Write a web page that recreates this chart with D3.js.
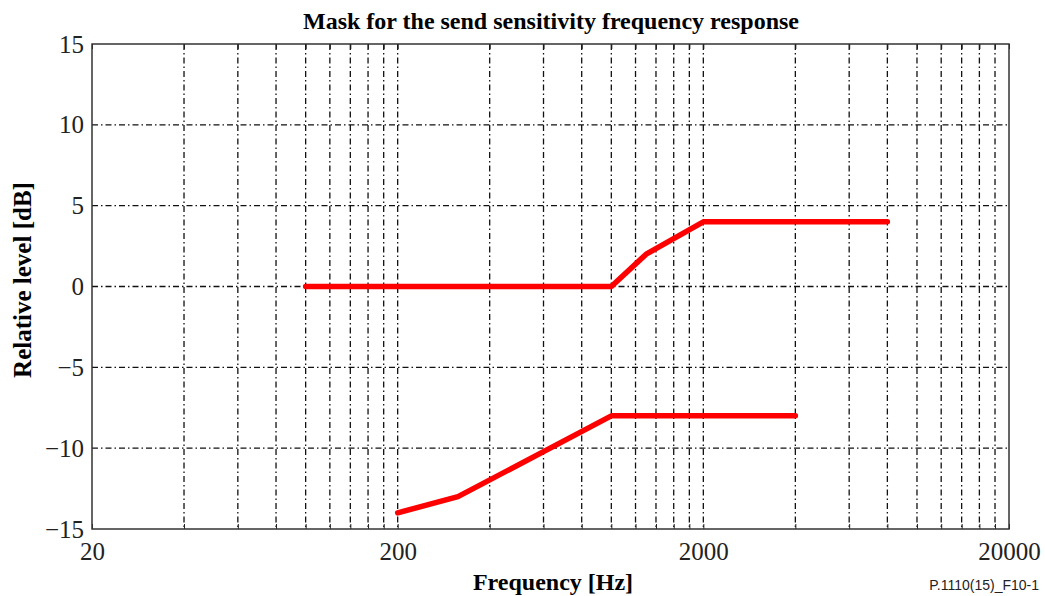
<!DOCTYPE html>
<html>
<head>
<meta charset="utf-8">
<script src="https://cdn.jsdelivr.net/npm/d3@7"></script>
<style>
	body { margin: 0; background: #fff; }
	svg { display: block; }
	.tick text { font-family: "Liberation Serif", "Times New Roman", serif; font-size: 25px; fill: #222; }
</style>
</head>
<body>
<svg id="chart" width="1045" height="596"></svg>
<script>
// upper limit of the mask
var upperFreq = [100, 1000, 1300, 2000, 8000];
var upperLevel = [0, 0, 2, 4, 4];
// lower limit of the mask
var lowerFreq = [200, 315, 1000, 4000];
var lowerLevel = [-14, -13, -8, -8];

var xLabels = [20, 200, 2000, 20000];
var yTicks = [-15, -10, -5, 0, 5, 10, 15];

var width = 1045, height = 596;
var margin = {top: 44, right: 36, bottom: 67, left: 92};

var svg = d3.select('#chart');

var x = d3.scaleLog()
	.domain([20, 20000])
	.range([margin.left, width - margin.right]);

var y = d3.scaleLinear()
	.domain([-15, 15])
	.range([height - margin.bottom, margin.top]);

// grid frequencies: 20,40..200, 400..2000, 4000..20000
var gridFreq = [];
xLabels.slice(0, 3).forEach(function(d){
	for (var k = 1; k <= 10; k++) gridFreq.push(d * k);
});
gridFreq = gridFreq.filter(function(d, i, a){ return a.indexOf(d) === i; });

var dash = '6,3,1.5,3';

//vertical grid
svg.append('g')
	.selectAll('line')
	.data(gridFreq.filter(function(d){ return d > 20 && d < 20000; }))
	.enter().append('line')
	.attr('x1', function(d){ return x(d); })
	.attr('x2', function(d){ return x(d); })
	.attr('y1', margin.top)
	.attr('y2', height - margin.bottom)
	.attr('stroke', '#111')
	.attr('stroke-width', 1.3)
	.attr('stroke-dasharray', dash);

//horizontal grid
svg.append('g')
	.selectAll('line')
	.data(yTicks.filter(function(d){ return d > -15 && d < 15; }))
	.enter().append('line')
	.attr('x1', margin.left)
	.attr('x2', width - margin.right)
	.attr('y1', function(d){ return y(d); })
	.attr('y2', function(d){ return y(d); })
	.attr('stroke', '#111')
	.attr('stroke-width', 1.3)
	.attr('stroke-dasharray', dash);

var fmtX = function(d){ return xLabels.indexOf(d) >= 0 ? d : ''; };

svg.append('g')
	.attr('transform', 'translate(0,' + (height - margin.bottom) + ')')
	.call(d3.axisBottom(x).tickValues(gridFreq).tickFormat(fmtX).tickSize(-5).tickPadding(13))
	.call(function(g){
		g.select('.domain').remove();
		g.selectAll('.tick line').attr('stroke', '#222');
	});

svg.append('g')
	.attr('transform', 'translate(0,' + margin.top + ')')
	.call(d3.axisTop(x).tickValues(gridFreq).tickFormat('').tickSize(-5))
	.call(function(g){
		g.select('.domain').remove();
		g.selectAll('.tick line').attr('stroke', '#222');
	});

svg.append('g')
	.attr('transform', 'translate(' + margin.left + ',0)')
	.call(d3.axisLeft(y).tickValues(yTicks).tickSize(0).tickPadding(8)
		.tickFormat(function(d){ return d < 0 ? '\u2212' + Math.abs(d) : d; }))
	.call(function(g){ g.select('.domain').remove(); });

//frame
svg.append('rect')
	.attr('x', margin.left)
	.attr('y', margin.top)
	.attr('width', width - margin.left - margin.right)
	.attr('height', height - margin.top - margin.bottom)
	.attr('fill', 'none')
	.attr('stroke', '#333')
	.attr('stroke-width', 1.5);

var line = d3.line()
	.x(function(d){ return x(d[0]); })
	.y(function(d){ return y(d[1]); });

[[upperFreq, upperLevel], [lowerFreq, lowerLevel]].forEach(function(s){
	svg.append('path')
		.datum(d3.zip(s[0], s[1]))
		.attr('d', line)
		.attr('fill', 'none')
		.attr('stroke', '#ff0000')
		.attr('stroke-width', 5.5)
		.attr('stroke-linecap', 'round')
		.attr('stroke-linejoin', 'round');
});

svg.append('text')
	.attr('x', 551)
	.attr('y', 29)
	.attr('text-anchor', 'middle')
	.style('font-family', '"Liberation Serif", serif')
	.style('font-weight', 'bold')
	.style('font-size', '24px')
	.text('Mask for the send sensitivity frequency response');

svg.append('text')
	.attr('x', 553)
	.attr('y', 590)
	.attr('text-anchor', 'middle')
	.style('font-family', '"Liberation Serif", serif')
	.style('font-weight', 'bold')
	.style('font-size', '24px')
	.text('Frequency [Hz]');

svg.append('text')
	.attr('transform', 'translate(31,280) rotate(-90)')
	.attr('text-anchor', 'middle')
	.style('font-family', '"Liberation Serif", serif')
	.style('font-weight', 'bold')
	.style('font-size', '25px')
	.text('Relative level [dB]');

svg.append('text')
	.attr('x', 1039)
	.attr('y', 590)
	.attr('text-anchor', 'end')
	.style('font-family', '"Liberation Sans", Arial, sans-serif')
	.style('font-size', '14px')
	.style('fill', '#222')
	.text('P.1110(15)_F10-1');
</script>
</body>
</html>
